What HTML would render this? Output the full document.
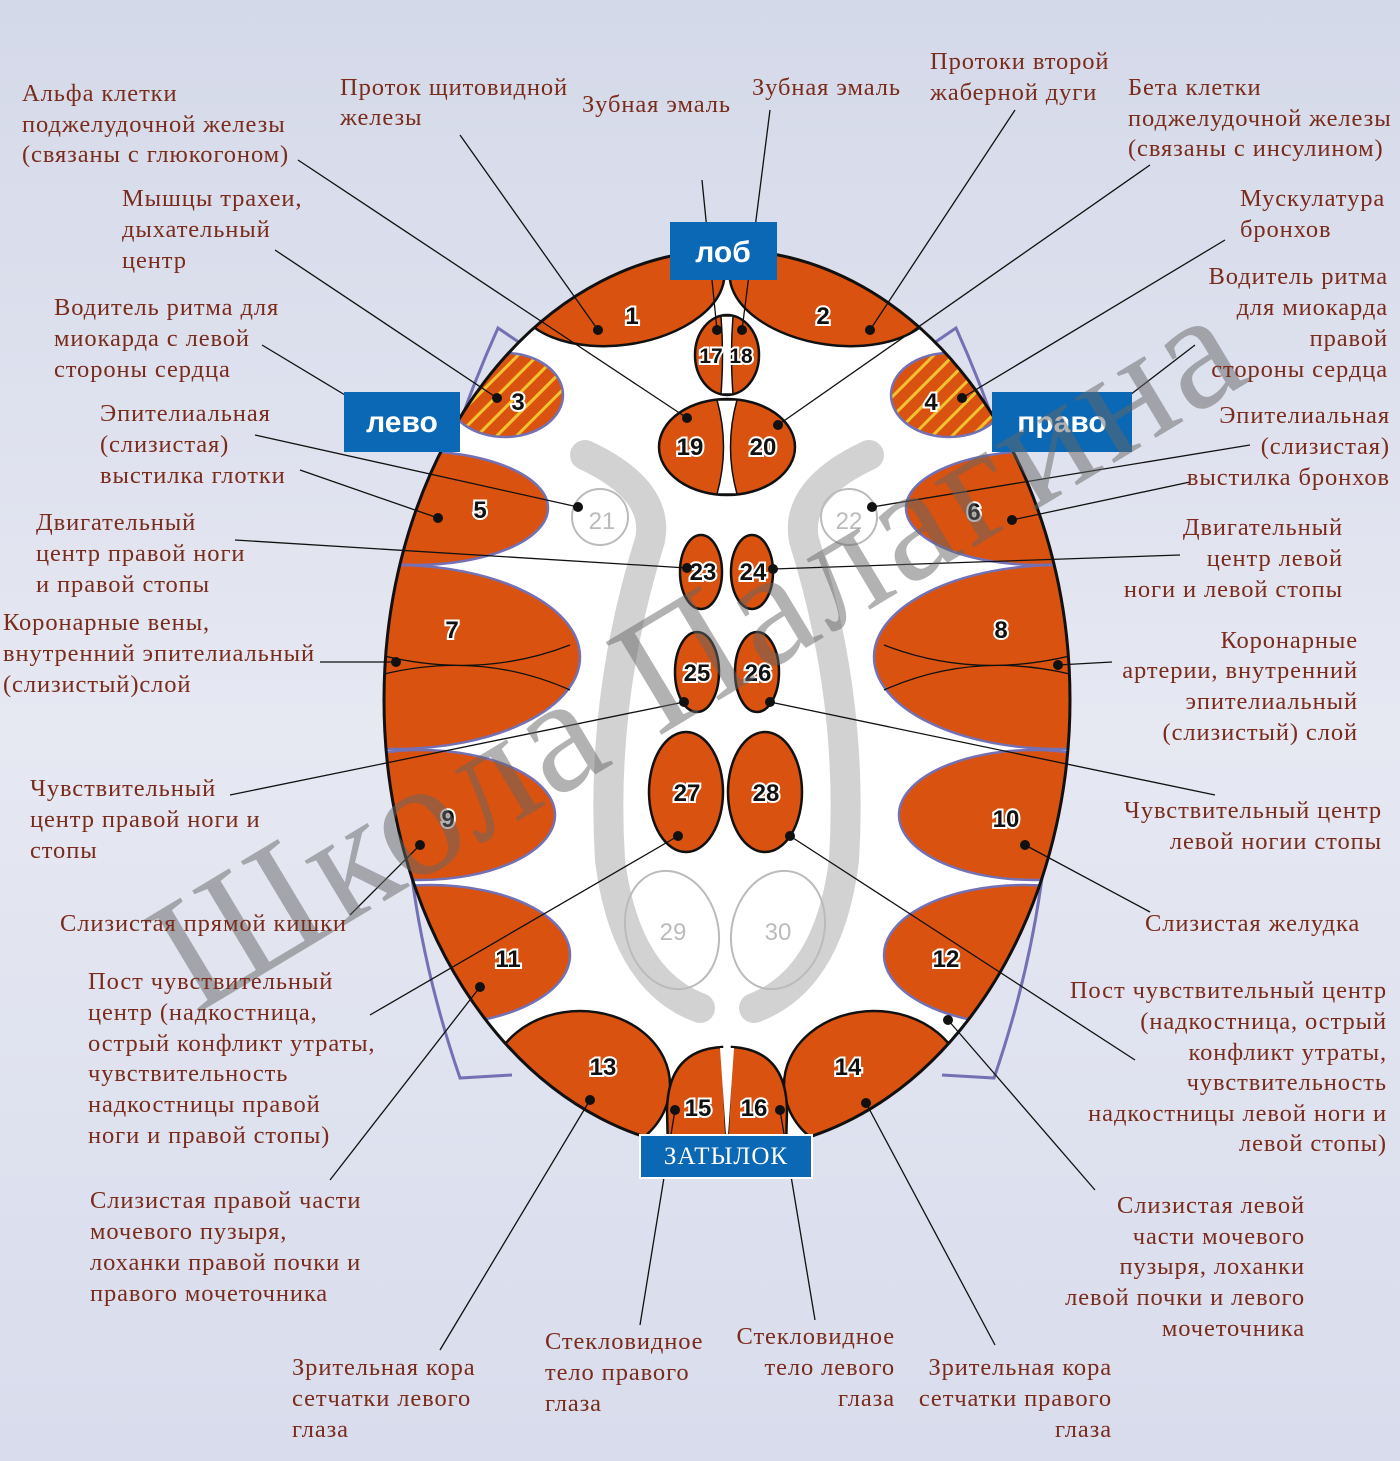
<!DOCTYPE html>
<html><head><meta charset="utf-8"><style>
html,body{margin:0;padding:0;width:1400px;height:1461px;overflow:hidden;background:#e3e6f1}
svg{display:block}
.t{font-family:"Liberation Serif","Noto Serif CJK SC",serif;font-size:24.5px;letter-spacing:0.9px;fill:#7a2c1c;white-space:pre}
.n{font-family:"Liberation Sans",sans-serif;font-weight:bold;font-size:24px;fill:#111;stroke:#fff;stroke-width:4;paint-order:stroke;text-anchor:middle}
.g{font-family:"Liberation Sans",sans-serif;font-size:24px;fill:#bbb;text-anchor:middle}
.L{stroke:#111;stroke-width:1.3;fill:none}
.o{fill:#d9520f}
</style></head><body>
<svg width="1400" height="1461" viewBox="0 0 1400 1461">
<defs>
<linearGradient id="bg" x1="0" y1="0" x2="0" y2="1"><stop offset="0" stop-color="#d4d9e9"/><stop offset="0.5" stop-color="#e6e8f2"/><stop offset="1" stop-color="#d8dcec"/></linearGradient>
<clipPath id="ec"><ellipse cx="727" cy="700" rx="343" ry="450"/></clipPath>
<pattern id="hatch" width="14" height="14" patternUnits="userSpaceOnUse" patternTransform="rotate(45)"><rect width="14" height="14" fill="#d9520f"/><rect width="3" height="14" fill="#f2c230"/></pattern>
</defs>
<rect width="1400" height="1461" fill="url(#bg)"/>
<path d="M520,343 L498,328 Q330,700 460,1078 L512,1075" fill="none" stroke="#7470b4" stroke-width="3"/>
<path d="M934,343 L956,328 Q1124,700 994,1078 L942,1075" fill="none" stroke="#7470b4" stroke-width="3"/>
<ellipse cx="727" cy="700" rx="343" ry="450" fill="#fff"/>
<path d="M585,455 Q660,490 650,540 Q600,700 610,860 Q625,980 700,1008" fill="none" stroke="#d2d2d2" stroke-width="30" stroke-linecap="round"/>
<path d="M869,455 Q794,490 804,540 Q854,700 844,860 Q829,980 754,1008" fill="none" stroke="#d2d2d2" stroke-width="30" stroke-linecap="round"/>
<g clip-path="url(#ec)">
<g stroke="#111" stroke-width="2.5">
<ellipse class="o" cx="620" cy="285" rx="105" ry="60" transform="rotate(-8 620 285)"/>
<ellipse class="o" cx="834" cy="285" rx="105" ry="60" transform="rotate(8 834 285)"/>
<ellipse class="o" cx="580" cy="1085" rx="90" ry="74"/>
<ellipse class="o" cx="874" cy="1085" rx="90" ry="74"/>
</g>
<g stroke="#7470b4" stroke-width="2.5">
<ellipse fill="url(#hatch)" cx="505" cy="395" rx="58" ry="42"/>
<ellipse fill="url(#hatch)" cx="949" cy="395" rx="58" ry="42"/>
<ellipse class="o" cx="415" cy="508" rx="133" ry="57"/>
<ellipse class="o" cx="1039" cy="508" rx="133" ry="57"/>
<ellipse class="o" cx="395" cy="657" rx="185" ry="92"/>
<ellipse class="o" cx="1059" cy="657" rx="185" ry="92"/>
<ellipse class="o" cx="420" cy="815" rx="135" ry="65"/>
<ellipse class="o" cx="1034" cy="815" rx="135" ry="65"/>
<ellipse class="o" cx="430" cy="955" rx="140" ry="70"/>
<ellipse class="o" cx="1024" cy="955" rx="140" ry="70"/>
</g>
<path d="M380,655 Q480,680 570,645 M380,675 Q480,650 570,690" class="L" stroke-width="2"/>
<path d="M1074,655 Q974,680 884,645 M1074,675 Q974,650 884,690" class="L" stroke-width="2"/>
</g>
<ellipse cx="727" cy="700" rx="343" ry="450" fill="none" stroke="#111" stroke-width="3"/>
<g stroke="#111" stroke-width="2.5">
<path class="o" d="M722,1047 Q668,1050 667,1110 L668,1150 L727,1150 Z"/>
<path class="o" d="M732,1047 Q786,1050 787,1110 L786,1150 L727,1150 Z"/>
</g>
<path d="M720,1048 L727,1150 L734,1048 Z" fill="#fff"/>
<ellipse cx="727" cy="355" rx="32" ry="40" class="o" stroke="#111" stroke-width="2.5"/>
<path d="M721,316 Q724,355 721,394 L733,394 Q730,355 733,316Z" fill="#fff" stroke="#111" stroke-width="1.5"/>
<ellipse cx="727" cy="447" rx="68" ry="48" class="o" stroke="#111" stroke-width="2.5"/>
<path d="M717,400 Q730,447 717,494 L737,494 Q724,447 737,400Z" fill="#fff" stroke="#111" stroke-width="1.5"/>
<g class="o" stroke="#111" stroke-width="2.5">
<ellipse cx="701" cy="572" rx="21" ry="37"/><ellipse cx="752" cy="572" rx="21" ry="37"/>
<ellipse cx="697" cy="672" rx="22" ry="40"/><ellipse cx="757" cy="672" rx="22" ry="40"/>
<ellipse cx="686" cy="792" rx="37" ry="60"/><ellipse cx="765" cy="792" rx="37" ry="60"/>
</g>
<g fill="none" stroke="#bbb" stroke-width="2">
<circle cx="600" cy="517" r="28"/><circle cx="849" cy="517" r="28"/>
<ellipse cx="672" cy="930" rx="46" ry="60" transform="rotate(-15 672 930)"/>
<ellipse cx="778" cy="930" rx="46" ry="60" transform="rotate(15 778 930)"/>
</g>
<g class="n">
<text x="632" y="324">1</text><text x="823" y="324">2</text>
<text x="518" y="410">3</text><text x="931" y="410">4</text>
<text x="480" y="518">5</text><text x="974" y="520">6</text>
<text x="452" y="638">7</text><text x="1001" y="638">8</text>
<text x="448" y="827">9</text><text x="1006" y="827">10</text>
<text x="508" y="967">11</text><text x="946" y="967">12</text>
<text x="603" y="1075">13</text><text x="848" y="1075">14</text>
<text x="698" y="1116">15</text><text x="754" y="1116">16</text>
<text x="711" y="363" font-size="21">17</text><text x="741" y="363" font-size="21">18</text>
<text x="690" y="455">19</text><text x="763" y="455">20</text>
<text x="703" y="580">23</text><text x="753" y="580">24</text>
<text x="697" y="681">25</text><text x="758" y="681">26</text>
<text x="687" y="801">27</text><text x="766" y="801">28</text>
</g>
<g class="g"><text x="602" y="529">21</text><text x="849" y="529">22</text><text x="673" y="940">29</text><text x="778" y="940">30</text></g>
<g class="L">
<path d="M298,160 L687,418"/><path d="M460,135 L598,330"/><path d="M702,180 L717,330"/><path d="M770,110 L742,330"/>
<path d="M1015,110 L870,330"/><path d="M1150,165 L778,425"/><path d="M275,250 L497,398"/><path d="M1225,240 L962,398"/>
<path d="M262,345 L345,395"/><path d="M1195,345 L1130,395"/><path d="M255,435 L578,507"/><path d="M1250,445 L872,507"/>
<path d="M235,540 L687,568"/><path d="M1180,555 L773,569"/><path d="M320,662 L396,662"/><path d="M1112,662 L1058,665"/>
<path d="M300,470 L438,518"/><path d="M1190,482 L1012,520"/><path d="M230,795 L684,702"/><path d="M1215,795 L770,702"/>
<path d="M350,915 L420,845"/><path d="M1150,912 L1025,845"/><path d="M370,1015 L678,836"/><path d="M1135,1060 L790,836"/>
<path d="M330,1180 L480,987"/><path d="M1095,1190 L948,1020"/><path d="M440,1350 L590,1100"/><path d="M995,1345 L866,1103"/>
<path d="M640,1325 L675,1110"/><path d="M815,1320 L780,1110"/>
</g>
<g fill="#111">
<circle cx="687" cy="418" r="5"/><circle cx="598" cy="330" r="5"/><circle cx="717" cy="330" r="5"/><circle cx="742" cy="330" r="5"/>
<circle cx="870" cy="330" r="5"/><circle cx="778" cy="425" r="5"/><circle cx="497" cy="398" r="5"/><circle cx="962" cy="398" r="5"/>
<circle cx="578" cy="507" r="5"/><circle cx="872" cy="507" r="5"/><circle cx="687" cy="568" r="5"/><circle cx="773" cy="569" r="5"/>
<circle cx="396" cy="662" r="5"/><circle cx="1058" cy="665" r="5"/><circle cx="438" cy="518" r="5"/><circle cx="1012" cy="520" r="5"/>
<circle cx="684" cy="702" r="5"/><circle cx="770" cy="702" r="5"/><circle cx="420" cy="845" r="5"/><circle cx="1025" cy="845" r="5"/>
<circle cx="678" cy="836" r="5"/><circle cx="790" cy="836" r="5"/><circle cx="480" cy="987" r="5"/><circle cx="948" cy="1020" r="5"/>
<circle cx="590" cy="1100" r="5"/><circle cx="866" cy="1103" r="5"/><circle cx="675" cy="1110" r="5"/><circle cx="780" cy="1110" r="5"/>
</g>
<rect x="670" y="222" width="107" height="58" fill="#0a68b4"/>
<text x="723" y="262" font-family="Liberation Sans,sans-serif" font-weight="bold" font-size="30" fill="#fff" text-anchor="middle">лоб</text>
<rect x="344" y="392" width="116" height="60" fill="#0a68b4"/>
<text x="402" y="432" font-family="Liberation Sans,sans-serif" font-weight="bold" font-size="30" fill="#fff" text-anchor="middle">лево</text>
<rect x="992" y="392" width="140" height="60" fill="#0a68b4"/>
<text x="1062" y="432" font-family="Liberation Sans,sans-serif" font-weight="bold" font-size="30" fill="#fff" text-anchor="middle">право</text>
<rect x="640" y="1135" width="172" height="43" fill="#0a68b4" stroke="#fff" stroke-width="2"/>
<text x="726" y="1164" font-family="Liberation Serif,serif" font-size="25" fill="#fff" text-anchor="middle" letter-spacing="1">ЗАТЫЛОК</text>
<text x="0" y="0" transform="translate(195,1015) rotate(-31)" font-family="Liberation Serif,serif" font-size="165" fill="#666" fill-opacity="0.5" letter-spacing="4">Школа Палагина</text>
<g class="t">
<text x="22" y="101">Альфа клетки</text><text x="22" y="132">поджелудочной  железы</text><text x="22" y="162">(связаны с глюкогоном)</text>
<text x="340" y="95">Проток щитовидной</text><text x="340" y="125">железы</text>
<text x="582" y="112">Зубная эмаль</text>
<text x="752" y="95">Зубная эмаль</text>
<text x="930" y="69">Протоки второй</text><text x="930" y="100">жаберной дуги</text>
<text x="1128" y="95">Бета клетки</text><text x="1128" y="126">поджелудочной железы</text><text x="1128" y="156">(связаны с инсулином)</text>
<text x="122" y="206">Мышцы трахеи,</text><text x="122" y="237">дыхательный</text><text x="122" y="268">центр</text>
<text x="1240" y="206">Мускулатура</text><text x="1240" y="237">бронхов</text>
<text x="54" y="315">Водитель ритма для</text><text x="54" y="346">миокарда с левой</text><text x="54" y="377">стороны сердца</text>
<text x="100" y="421">Эпителиальная</text><text x="100" y="452">(слизистая)</text><text x="100" y="483">выстилка глотки</text>
<text x="36" y="530">Двигательный</text><text x="36" y="561">центр правой ноги</text><text x="36" y="592">и правой стопы</text>
<text x="3" y="630">Коронарные вены,</text><text x="3" y="661">внутренний эпителиальный</text><text x="3" y="692">(слизистый)слой</text>
<text x="30" y="796">Чувствительный</text><text x="30" y="827">центр правой ноги и</text><text x="30" y="858">стопы</text>
<text x="60" y="931">Слизистая прямой кишки</text>
<text x="88" y="989">Пост чувствительный</text><text x="88" y="1020">центр (надкостница,</text><text x="88" y="1051">острый конфликт утраты,</text><text x="88" y="1081">чувствительность</text><text x="88" y="1112">надкостницы  правой</text><text x="88" y="1143">ноги и правой стопы)</text>
<text x="90" y="1208">Слизистая правой части</text><text x="90" y="1239">мочевого пузыря,</text><text x="90" y="1270">лоханки правой почки и</text><text x="90" y="1301">правого мочеточника</text>
<text x="292" y="1375">Зрительная кора</text><text x="292" y="1406">сетчатки левого</text><text x="292" y="1437">глаза</text>
<text x="545" y="1349">Стекловидное</text><text x="545" y="1380">тело правого</text><text x="545" y="1411">глаза</text>
<text x="1145" y="931">Слизистая желудка</text>
</g>
<g class="t" text-anchor="end">
<text x="1388" y="284">Водитель ритма</text><text x="1388" y="315">для миокарда</text><text x="1388" y="346">правой</text><text x="1388" y="377">стороны сердца</text>
<text x="1390" y="423">Эпителиальная</text><text x="1390" y="454">(слизистая)</text><text x="1390" y="485">выстилка бронхов</text>
<text x="1343" y="535">Двигательный</text><text x="1343" y="566">центр левой</text><text x="1343" y="597">ноги и левой стопы</text>
<text x="1358" y="648">Коронарные</text><text x="1358" y="678">артерии,  внутренний</text><text x="1358" y="709">эпителиальный</text><text x="1358" y="740">(слизистый) слой</text>
<text x="1382" y="818">Чувствительный центр</text><text x="1382" y="849">левой ногии стопы</text>
<text x="1387" y="998">Пост чувствительный центр</text><text x="1387" y="1029">(надкостница, острый</text><text x="1387" y="1060">конфликт утраты,</text><text x="1387" y="1090">чувствительность</text><text x="1387" y="1121">надкостницы левой ноги и</text><text x="1387" y="1151">левой стопы)</text>
<text x="1305" y="1213">Слизистая левой</text><text x="1305" y="1244">части мочевого</text><text x="1305" y="1274">пузыря, лоханки</text><text x="1305" y="1305">левой почки и левого</text><text x="1305" y="1336">мочеточника</text>
<text x="895" y="1344">Стекловидное</text><text x="895" y="1375">тело левого</text><text x="895" y="1406">глаза</text>
<text x="1112" y="1375">Зрительная кора</text><text x="1112" y="1406">сетчатки правого</text><text x="1112" y="1437">глаза</text>
</g>
</svg>
</body></html>
